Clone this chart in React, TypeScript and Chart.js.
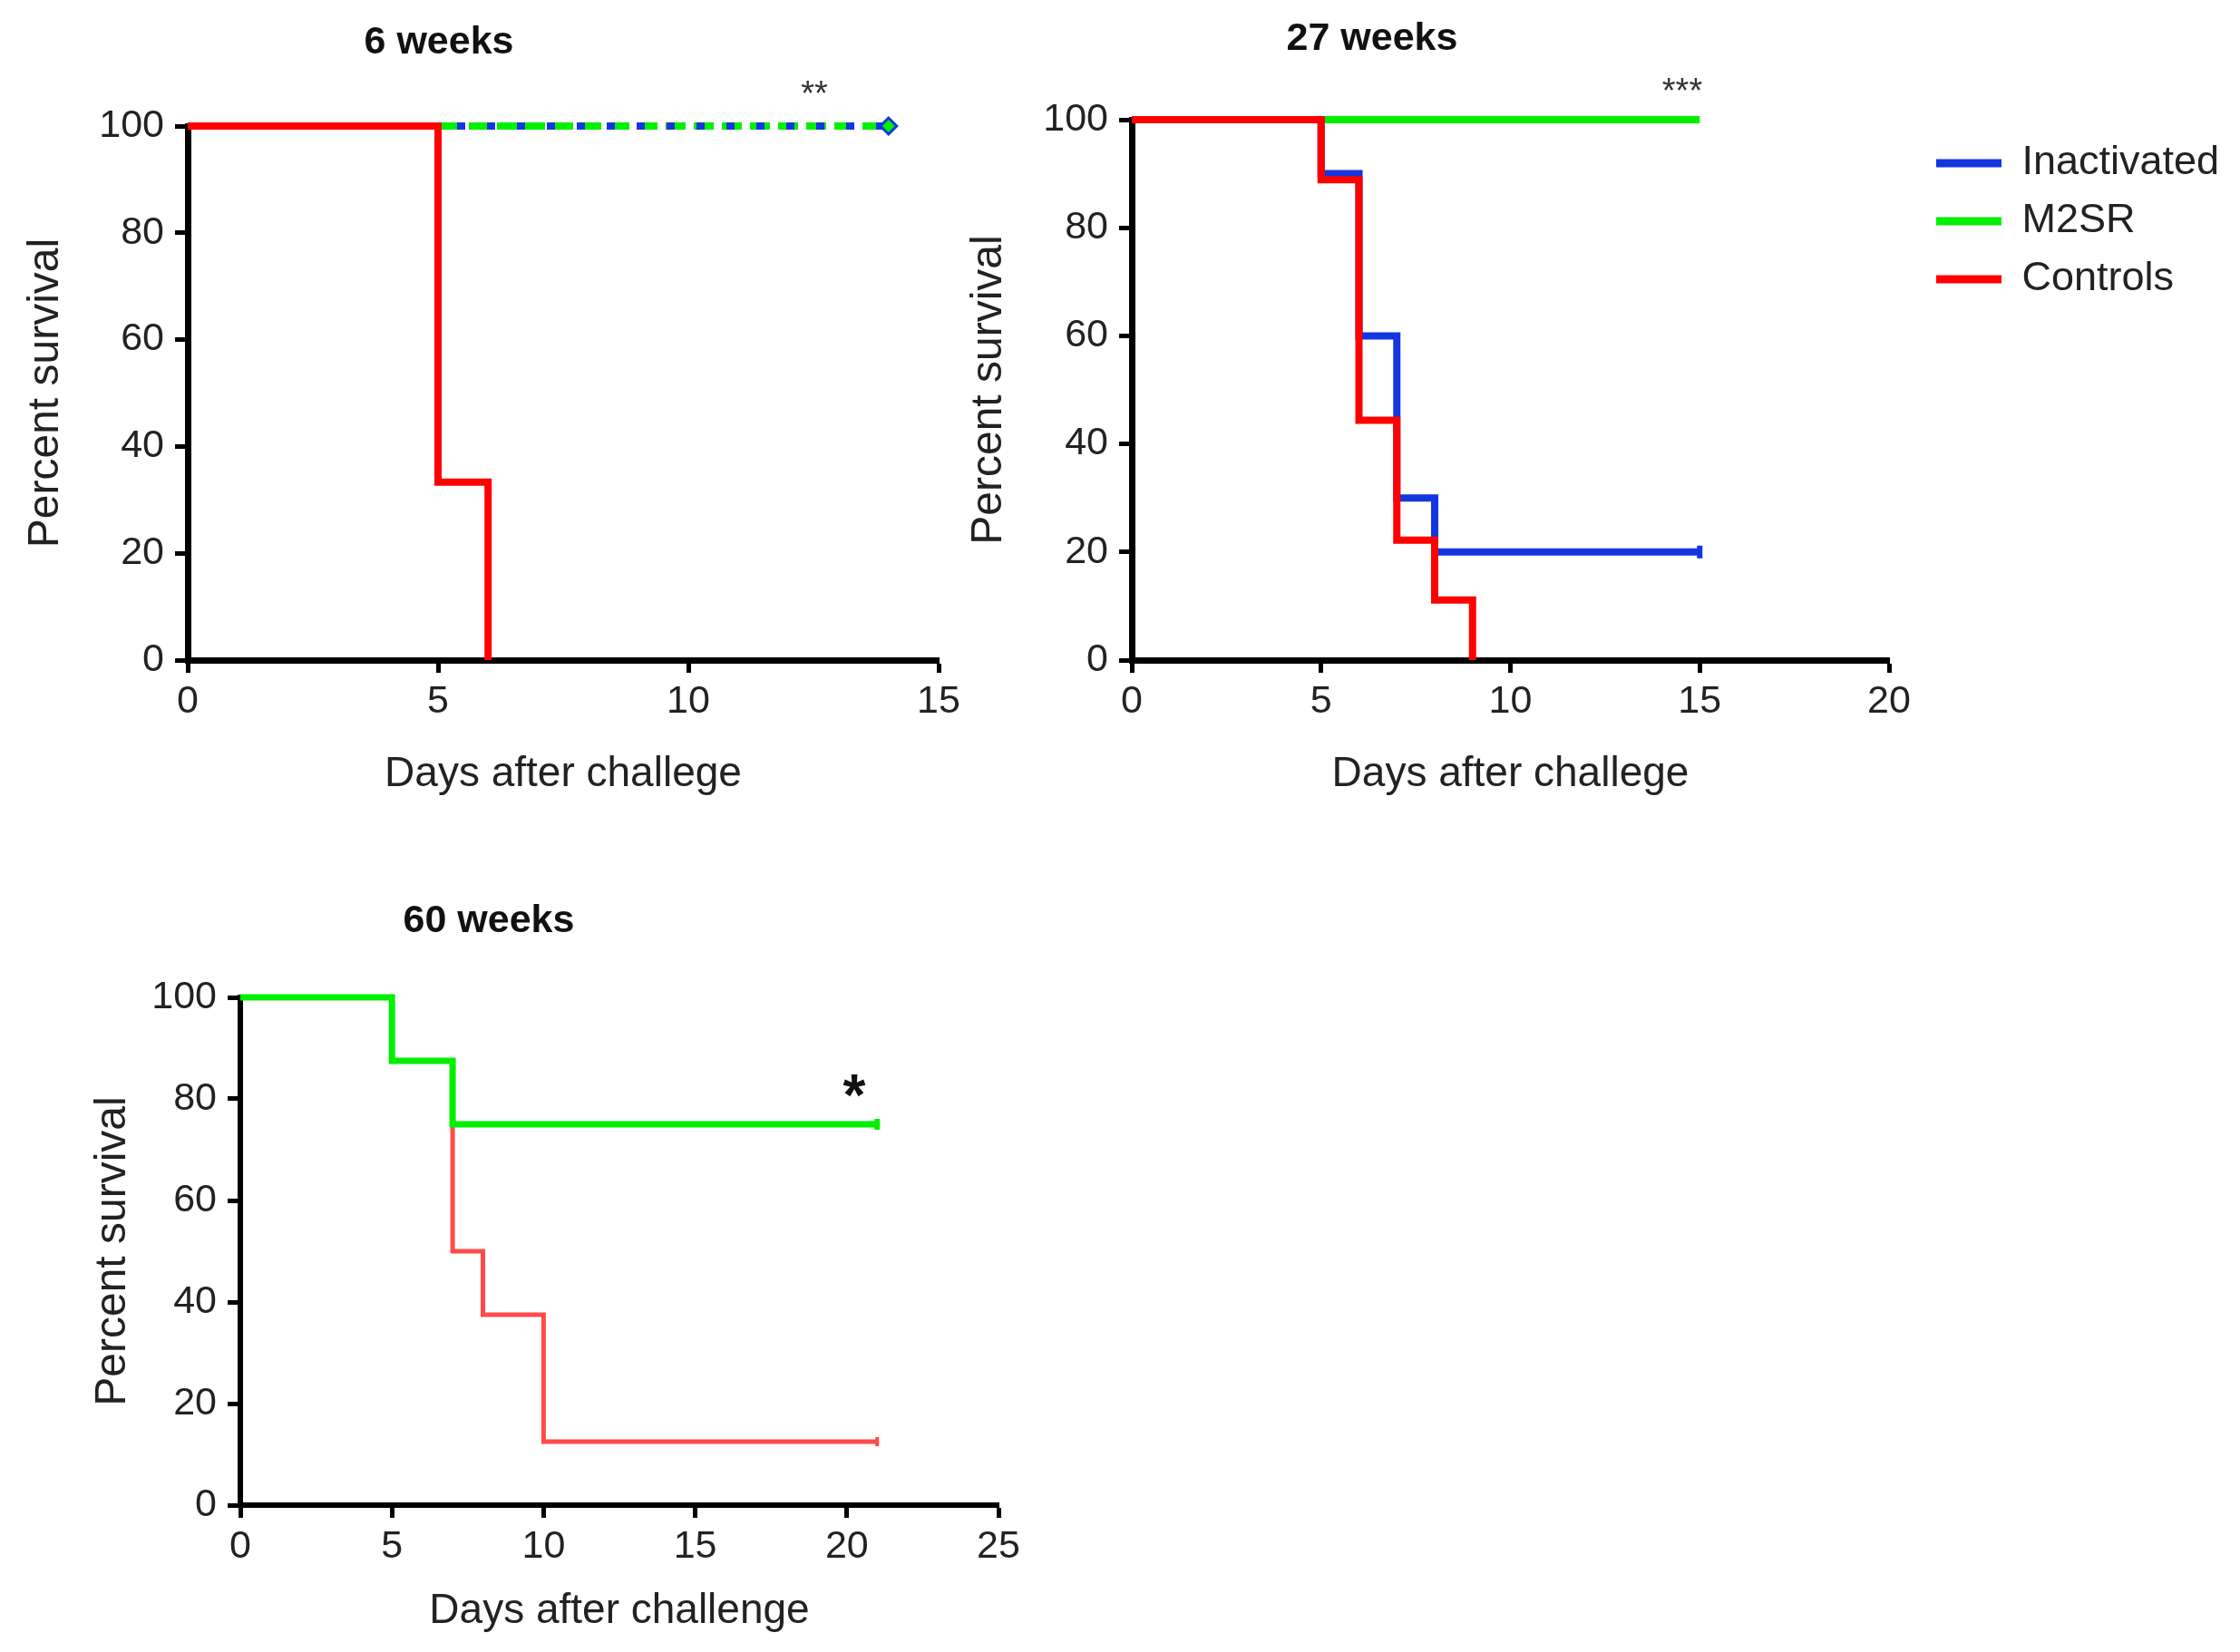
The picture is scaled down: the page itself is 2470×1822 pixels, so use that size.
import React, { useEffect, useRef } from 'react';
import { Chart, registerables } from 'chart.js';

Chart.register(...registerables);

// ---------------- data ----------------
const seriesNames = ['Inactivated', 'M2SR', 'Controls'];
const yTickValues = [0, 20, 40, 60, 80, 100];

// 6 weeks
const wk6XTicks = [0, 5, 10, 15];
const wk6InactDays = [0, 14];
const wk6InactSurv = [100, 100];
const wk6M2srDays = [0, 14];
const wk6M2srSurv = [100, 100];
const wk6CtrlDays = [0, 5, 6];
const wk6CtrlSurv = [100, 33.3, 0];

// 27 weeks
const wk27XTicks = [0, 5, 10, 15, 20];
const wk27InactDays = [0, 5, 6, 7, 8, 15];
const wk27InactSurv = [100, 90, 60, 30, 20, 20];
const wk27M2srDays = [0, 15];
const wk27M2srSurv = [100, 100];
const wk27CtrlDays = [0, 5, 6, 7, 8, 9];
const wk27CtrlSurv = [100, 88.9, 44.4, 22.2, 11.1, 0];

// 60 weeks
const wk60XTicks = [0, 5, 10, 15, 20, 25];
const wk60M2srDays = [0, 5, 7, 21];
const wk60M2srSurv = [100, 87.5, 75, 75];
const wk60CtrlDays = [7, 7, 8, 10, 21];
const wk60CtrlSurv = [75, 50, 37.5, 12.5, 12.5];

const titles = ['6 weeks', '27 weeks', '60 weeks'];
const stars = ['**', '***', '*'];
const xTitles = ['Days after challege', 'Days after challege', 'Days after challenge'];
const yTitle = 'Percent survival';

// ---------------- styles ----------------
const BLUE = '#1436e0';
const GREEN = '#00f000';
const RED = '#ff0000';
const RED_LIGHT = '#ff4a4a';
const TXT = '#222';
const SANS = "'Liberation Sans', Arial, sans-serif";

type PanelLayout = {
  left: number; top: number; width: number; height: number;
  padTop: number; padRight: number; yW: number; xH: number; axisW: number;
};

const L1: PanelLayout = { left: 22, top: 0, width: 1053, height: 882, padTop: 139, padRight: 40, yW: 185, xH: 154, axisW: 7 };
const L2: PanelLayout = { left: 1062, top: 0, width: 1400, height: 882, padTop: 132, padRight: 79, yW: 186, xH: 154, axisW: 7 };
const L3: PanelLayout = { left: 96, top: 960, width: 1045, height: 845, padTop: 140, padRight: 40, yW: 169, xH: 145, axisW: 6 };

const pts = (xs: number[], ys: number[]) => xs.map((x, i) => ({ x, y: ys[i] }));
const lastOnly = (r: number) => (c: any) => (c.dataIndex === c.dataset.data.length - 1 ? r : 0);

type TextItem = { text: string; x: number; y: number; font: string; color: string; baseline: CanvasTextBaseline };

const textPlugin = (items: TextItem[]) => ({
  id: 'panelText',
  afterDraw(chart: any) {
    const ctx = chart.ctx as CanvasRenderingContext2D;
    items.forEach((t) => {
      ctx.save();
      ctx.font = t.font;
      ctx.fillStyle = t.color;
      ctx.textAlign = 'center';
      ctx.textBaseline = t.baseline;
      ctx.fillText(t.text, t.x, t.y);
      ctx.restore();
    });
  },
});

const legendPlacer = (gap: number, topY: number, drawWidth: number) => ({
  id: 'legendPlacer',
  afterLayout(chart: any) {
    const lg = chart.legend;
    if (!lg) return;
    const h = lg.height;
    lg.left = chart.chartArea.right + gap;
    lg.right = lg.left + drawWidth;
    lg.top = topY;
    lg.bottom = topY + h;
  },
});

function makeConfig(L: PanelLayout, datasets: any[], xTicks: number[], xTitle: string, texts: TextItem[], legend: boolean) {
  const grid = {
    display: true,
    drawOnChartArea: false,
    drawTicks: true,
    tickLength: 14,
    tickWidth: 5,
    tickColor: '#000',
  };
  const border = { display: true, color: '#000', width: L.axisW };
  const plugins: any[] = [textPlugin(texts)];
  if (legend) plugins.push(legendPlacer(33, 138.5, 400));
  return {
    type: 'line' as const,
    data: { datasets },
    options: {
      responsive: false,
      animation: false as const,
      events: [],
      layout: { padding: { top: L.padTop, right: L.padRight, left: 0, bottom: 0 } },
      plugins: {
        tooltip: { enabled: false },
        title: { display: false },
        legend: legend
          ? {
              display: true,
              position: 'right' as const,
              align: 'start' as const,
              maxWidth: 300,
              labels: {
                boxWidth: 72,
                boxHeight: 9,
                padding: 19,
                color: TXT,
                font: { family: SANS, size: 45 },
                generateLabels: (chart: any) =>
                  chart.data.datasets.map((ds: any, i: number) => ({
                    text: ds.label,
                    fillStyle: ds.borderColor,
                    strokeStyle: ds.borderColor,
                    lineWidth: 0,
                    hidden: false,
                    datasetIndex: i,
                    fontColor: TXT,
                  })),
              },
            }
          : { display: false },
      },
      scales: {
        x: {
          type: 'linear' as const,
          min: xTicks[0],
          max: xTicks[xTicks.length - 1],
          ticks: { stepSize: xTicks[1] - xTicks[0], color: TXT, font: { family: SANS, size: 43 }, padding: 6, autoSkip: false, maxRotation: 0 },
          grid,
          border,
          title: { display: true, text: xTitle, color: TXT, font: { family: SANS, size: 46 }, padding: 0 },
          afterFit: (s: any) => { s.height = L.xH; },
        },
        y: {
          type: 'linear' as const,
          min: yTickValues[0],
          max: yTickValues[yTickValues.length - 1],
          ticks: { stepSize: yTickValues[1] - yTickValues[0], color: TXT, font: { family: SANS, size: 43 }, padding: 12 },
          grid,
          border,
          title: { display: true, text: yTitle, color: TXT, font: { family: SANS, size: 48 }, padding: 0 },
          afterFit: (s: any) => { s.width = L.yW; },
        },
      },
    },
    plugins,
  };
}

const base = {
  fill: false,
  tension: 0,
  stepped: true,
  clip: false,
  borderCapStyle: 'butt',
  borderJoinStyle: 'miter',
  pointRadius: 0,
};

function Panel({ L, build }: { L: PanelLayout; build: () => any }) {
  const ref = useRef<HTMLCanvasElement>(null);
  useEffect(() => {
    const chart = new Chart(ref.current as HTMLCanvasElement, build());
    return () => chart.destroy();
  }, []);
  return (
    <canvas
      ref={ref}
      width={L.width}
      height={L.height}
      style={{ position: 'absolute', left: L.left, top: L.top, width: L.width, height: L.height }}
    />
  );
}

const build6 = () =>
  makeConfig(
    L1,
    [
      { ...base, label: seriesNames[0], data: pts(wk6InactDays, wk6InactSurv), borderColor: BLUE, backgroundColor: BLUE, borderWidth: 8, borderDash: [9, 24], order: 1,
        pointRadius: lastOnly(9), pointStyle: 'rectRot', pointBackgroundColor: GREEN, pointBorderColor: BLUE, pointBorderWidth: 3 },
      { ...base, label: seriesNames[1], data: pts(wk6M2srDays, wk6M2srSurv), borderColor: GREEN, backgroundColor: GREEN, borderWidth: 8, borderDash: [22, 9], order: 2 },
      { ...base, label: seriesNames[2], data: pts(wk6CtrlDays, wk6CtrlSurv), borderColor: RED, backgroundColor: RED, borderWidth: 8, order: 0 },
    ],
    wk6XTicks,
    xTitles[0],
    [
      { text: titles[0], x: 484 - L1.left, y: 47 - L1.top, font: `bold 43px ${SANS}`, color: '#111', baseline: 'middle' },
      { text: stars[0], x: 898 - L1.left, y: 116 - L1.top, font: `38px ${SANS}`, color: '#333', baseline: 'alphabetic' },
    ],
    false
  );

const build27 = () =>
  makeConfig(
    L2,
    [
      { ...base, label: seriesNames[0], data: pts(wk27InactDays, wk27InactSurv), borderColor: BLUE, backgroundColor: BLUE, borderWidth: 8, order: 1,
        pointRadius: lastOnly(7), pointStyle: 'line', rotation: 90, pointBorderColor: BLUE, pointBorderWidth: 6 },
      { ...base, label: seriesNames[1], data: pts(wk27M2srDays, wk27M2srSurv), borderColor: GREEN, backgroundColor: GREEN, borderWidth: 8, order: 2 },
      { ...base, label: seriesNames[2], data: pts(wk27CtrlDays, wk27CtrlSurv), borderColor: RED, backgroundColor: RED, borderWidth: 8, order: 0 },
    ],
    wk27XTicks,
    xTitles[1],
    [
      { text: titles[1], x: 1513 - L2.left, y: 43 - L2.top, font: `bold 43px ${SANS}`, color: '#111', baseline: 'middle' },
      { text: stars[1], x: 1855 - L2.left, y: 113 - L2.top, font: `38px ${SANS}`, color: '#333', baseline: 'alphabetic' },
    ],
    true
  );

const build60 = () =>
  makeConfig(
    L3,
    [
      { ...base, label: seriesNames[1], data: pts(wk60M2srDays, wk60M2srSurv), borderColor: GREEN, backgroundColor: GREEN, borderWidth: 7, order: 0,
        pointRadius: lastOnly(6), pointStyle: 'line', rotation: 90, pointBorderColor: GREEN, pointBorderWidth: 6 },
      { ...base, label: seriesNames[2], data: pts(wk60CtrlDays, wk60CtrlSurv), borderColor: RED_LIGHT, backgroundColor: RED_LIGHT, borderWidth: 5, order: 1,
        pointRadius: lastOnly(5), pointStyle: 'line', rotation: 90, pointBorderColor: RED_LIGHT, pointBorderWidth: 4 },
    ],
    wk60XTicks,
    xTitles[2],
    [
      { text: titles[2], x: 539 - L3.left, y: 1016 - L3.top, font: `bold 43px ${SANS}`, color: '#111', baseline: 'middle' },
      { text: stars[2], x: 942 - L3.left, y: 1230 - L3.top, font: `bold 64px ${SANS}`, color: '#111', baseline: 'alphabetic' },
    ],
    false
  );

export default function App() {
  return (
    <div style={{ position: 'absolute', left: 0, top: 0, width: 2470, height: 1822, background: '#fff', overflow: 'hidden' }}>
      <Panel L={L1} build={build6} />
      <Panel L={L2} build={build27} />
      <Panel L={L3} build={build60} />
    </div>
  );
}
